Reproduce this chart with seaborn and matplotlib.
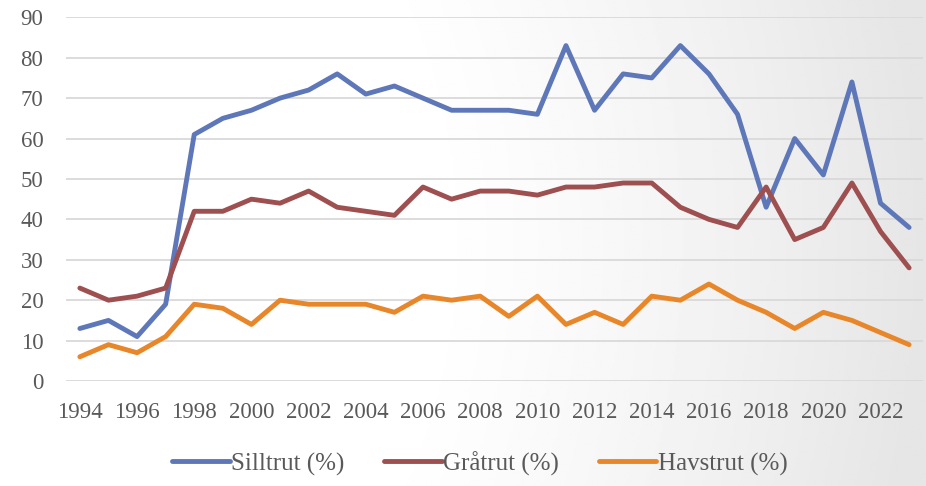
import matplotlib
matplotlib.use("Agg")
import matplotlib.pyplot as plt
import seaborn as sns
import numpy as np
import pandas as pd

years = list(range(1994, 2024))
silltrut = [13, 15, 11, 19, 61, 65, 67, 70, 72, 76, 71, 73, 70, 67, 67, 67, 66, 83, 67, 76,
            75, 83, 76, 66, 43, 60, 51, 74, 44, 38]
gratrut = [23, 20, 21, 23, 42, 42, 45, 44, 47, 43, 42, 41, 48, 45, 47, 47, 46, 48, 48, 49,
           49, 43, 40, 38, 48, 35, 38, 49, 37, 28]
havstrut = [6, 9, 7, 11, 19, 18, 14, 20, 19, 19, 19, 17, 21, 20, 21, 16, 21, 14, 17, 14,
            21, 20, 24, 20, 17, 13, 17, 15, 12, 9]
serier = ["Silltrut (%)", "Gråtrut (%)", "Havstrut (%)"]
farger = ["#5E77B8", "#9E4F50", "#E8862A"]
xtick_labels = [str(y) for y in range(1994, 2023, 2)]

df = pd.DataFrame({"År": years, serier[0]: silltrut, serier[1]: gratrut, serier[2]: havstrut})
df_long = df.melt(id_vars="År", var_name="Art", value_name="Andel")

sns.set_style("white")
plt.rcParams["font.family"] = ["Liberation Serif", "DejaVu Serif"]
text_farg = "#595959"

fig = plt.figure(figsize=(9.26, 4.86), dpi=100)

# bakgrund med svag gradient mot höger
bg = fig.add_axes([0, 0, 1, 1], zorder=-1)
xx, yy = np.meshgrid(np.linspace(0, 1, 400), np.linspace(0, 1, 220))
d = np.sqrt((xx + 0.1) ** 2 + ((yy - 0.5) * 0.5) ** 2)
t = np.clip((d - 0.55) / 0.55, 0, 1) ** 1.3
bg.imshow(1 - 0.10 * t, cmap="gray", vmin=0, vmax=1, aspect="auto", extent=[0, 1, 0, 1])
bg.axis("off")

ax = fig.add_axes([0.0708, 0.216, 0.9264, 0.7484])
ax.set_facecolor("none")
sns.lineplot(data=df_long, x="År", y="Andel", hue="Art", palette=farger,
             linewidth=3.5, ax=ax, legend=True)

ax.set_xlim(1993.5, 2023.5)
ax.set_ylim(0, 90)
ax.set_yticks(range(0, 91, 10))
ax.set_xticks(range(1994, 2023, 2))
ax.set_xticklabels(xtick_labels)
ax.yaxis.grid(True, color="#D9D9D9", linewidth=1.3)
ax.set_axisbelow(True)
for s in ax.spines.values():
    s.set_visible(False)
ax.tick_params(axis="both", length=0, labelsize=16.5, colors=text_farg)
ax.tick_params(axis="y", pad=16)
ax.tick_params(axis="x", pad=15)
ax.set_xlabel("")
ax.set_ylabel("")

handles, labels = ax.get_legend_handles_labels()
for h in handles:
    h.set_linewidth(3.5)
ax.get_legend().remove()
fig.legend(handles, labels, loc="lower center", bbox_to_anchor=(0.518, -0.025),
           ncol=3, frameon=False, fontsize=18, handlelength=2.3, handletextpad=0.05,
           columnspacing=1.6, labelcolor=text_farg)

fig.savefig("out.png", dpi=100)
